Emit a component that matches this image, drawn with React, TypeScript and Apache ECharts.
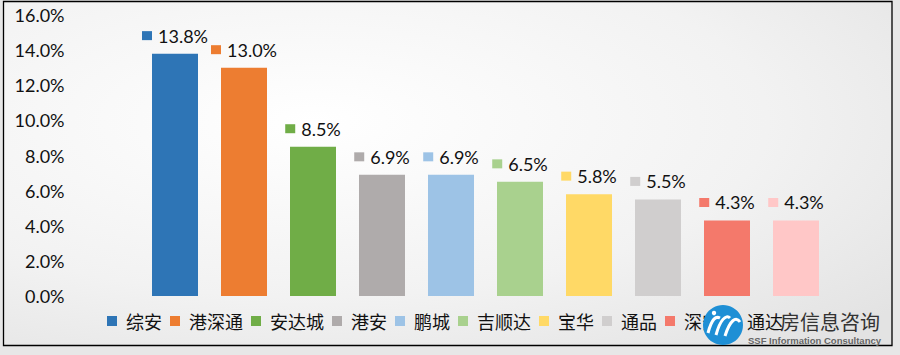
import React, { useEffect, useRef } from "react";
import * as echarts from "echarts";

const categories = ["综安", "港深通", "安达城", "港安", "鹏城", "吉顺达", "宝华", "通品", "深安", "通达"];
const values = [13.8, 13.0, 8.5, 6.9, 6.9, 6.5, 5.8, 5.5, 4.3, 4.3];
const colors = ["#2E75B6", "#ED7D31", "#70AD47", "#AFABAB", "#9DC3E6", "#A9D18E", "#FFD966", "#D0CECE", "#F4796B", "#FFC7C7"];
const yMax = 16;
const yInterval = 2;

export default function App() {
  const ref = useRef<HTMLDivElement>(null);
  useEffect(() => {
    if (!ref.current) return;
    const chart = echarts.init(ref.current, null, { renderer: "svg" });
    const font = "Lato, 'Noto Sans CJK SC', sans-serif";
    const series = categories.map((name, i) => ({
      name,
      type: "bar",
      stack: "all",
      barWidth: 46,
      data: categories.map((_, j) =>
        j === i
          ? {
              value: values[i],
              itemStyle: { color: colors[i] },
              label: {
                show: true,
                position: "top",
                distance: 7,
                formatter: () => `{sq|}{v|${values[i].toFixed(1)}%}`,
                rich: {
                  sq: { width: 10, height: 9, backgroundColor: colors[i], padding: 0 },
                  v: { fontFamily: font, fontSize: 18, color: "#111", padding: [0, 0, 0, 6], lineHeight: 22 },
                },
              },
            }
          : "-"
      ),
      itemStyle: { color: colors[i] },
    }));
    chart.setOption({
      animation: false,
      backgroundColor: "#e7e7e7",
      textStyle: { fontFamily: font },
      graphic: [
        {
          type: "rect",
          z: -10,
          silent: true,
          shape: { x: 3.5, y: 1.5, width: 888.5, height: 344 },
          style: {
            fill: new echarts.graphic.RadialGradient(0.35, 0.35, 0.85, [
              { offset: 0, color: "#ffffff" },
              { offset: 0.6, color: "#f2f2f2" },
              { offset: 1, color: "#e3e3e3" },
            ]),
            stroke: "#000",
            lineWidth: 1.3,
          },
        },
        {
          type: "circle",
          z: 100,
          silent: true,
          shape: { cx: 723, cy: 325, r: 20 },
          style: { fill: "#1E8FD5" },
        },
        {
          type: "bezierCurve",
          z: 101,
          silent: true,
          shape: { x1: 708, y1: 333, x2: 720, y2: 318, cpx1: 712, cpy1: 318, cpx2: 716, cpy2: 316 },
          style: { stroke: "#fff", lineWidth: 3, fill: null },
        },
        {
          type: "bezierCurve",
          z: 101,
          silent: true,
          shape: { x1: 716, y1: 335, x2: 730, y2: 318, cpx1: 720, cpy1: 320, cpx2: 726, cpy2: 314 },
          style: { stroke: "#fff", lineWidth: 3, fill: null },
        },
        {
          type: "bezierCurve",
          z: 101,
          silent: true,
          shape: { x1: 725, y1: 336, x2: 740, y2: 322, cpx1: 730, cpy1: 320, cpx2: 736, cpy2: 316 },
          style: { stroke: "#fff", lineWidth: 3, fill: null },
        },
        {
          type: "circle",
          z: 101,
          silent: true,
          shape: { cx: 714, cy: 313, r: 2.2 },
          style: { fill: "#fff" },
        },
        {
          type: "text",
          z: 100,
          silent: true,
          x: 780,
          y: 321,
          style: {
            text: "房信息咨询",
            font: "20px 'Noto Sans CJK SC'",
            fill: "#333",
            verticalAlign: "middle",
          },
        },
        {
          type: "text",
          z: 100,
          silent: true,
          x: 748,
          y: 340,
          style: {
            text: "SSF Information Consultancy",
            font: "bold 9.5px 'Liberation Sans'",
            fill: "#666",
            verticalAlign: "middle",
          },
        },
      ],
      legend: {
        left: 107,
        top: 312,
        padding: 0,
        itemWidth: 10,
        itemHeight: 10,
        itemGap: 8,
        icon: "rect",
        data: categories,
        textStyle: { fontFamily: "'Noto Sans CJK SC'", fontSize: 18, color: "#111", padding: [0, 0, 0, 4] },
      },
      grid: { left: 140.5, right: 69.5, top: 15, bottom: 59 },
      xAxis: {
        type: "category",
        data: categories,
        axisLine: { show: false },
        axisTick: { show: false },
        axisLabel: { show: false },
      },
      yAxis: {
        type: "value",
        min: 0,
        max: yMax,
        interval: yInterval,
        axisLine: { show: false },
        axisTick: { show: false },
        splitLine: { show: false },
        axisLabel: {
          margin: 76,
          fontFamily: font,
          fontSize: 18,
          color: "#111",
          formatter: (v: number) => v.toFixed(1) + "%",
        },
      },
      series,
    });
    return () => chart.dispose();
  }, []);
  return <div ref={ref} style={{ position: "absolute", left: 0, top: 0, width: 900, height: 355 }} />;
}
